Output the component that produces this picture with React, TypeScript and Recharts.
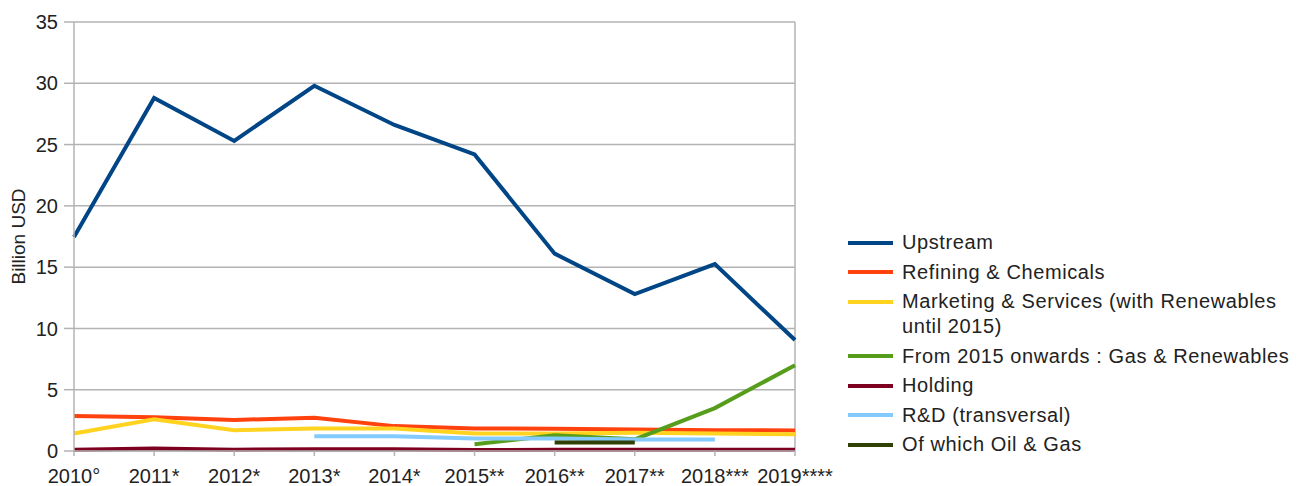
import React from 'react';
import { CartesianGrid, Line, LineChart, ReferenceLine, XAxis, YAxis } from 'recharts';

const years = ['2010°', '2011*', '2012*', '2013*', '2014*', '2015**', '2016**', '2017**', '2018***', '2019****'];
const upstream = [17.45, 28.8, 25.3, 29.8, 26.6, 24.2, 16.1, 12.8, 15.25, 9.05];
const refining = [2.86, 2.75, 2.53, 2.72, 2.03, 1.84, 1.81, 1.76, 1.7, 1.68];
const marketing = [1.43, 2.58, 1.7, 1.84, 1.84, 1.43, 1.43, 1.48, 1.43, 1.37];
const gasRenewables = [null, null, null, null, null, 0.55, 1.29, 0.95, 3.5, 7.0];
const holding = [0.1, 0.2, 0.1, 0.15, 0.15, 0.08, 0.1, 0.1, 0.1, 0.1];
const research = [null, null, null, 1.21, 1.21, 1.02, 1.02, 0.93, 0.93, null];
const oilGas = [null, null, null, null, null, null, 0.69, 0.69, null, null];
const yTicks = [0, 5, 10, 15, 20, 25, 30, 35];

const series = [
	{ key: 'upstream', name: 'Upstream', color: '#004586', values: upstream },
	{ key: 'refining', name: 'Refining & Chemicals', color: '#ff420e', values: refining },
	{ key: 'marketing', name: 'Marketing & Services (with Renewables until 2015)', color: '#ffd320', values: marketing },
	{ key: 'gas', name: 'From 2015 onwards : Gas & Renewables', color: '#579d1c', values: gasRenewables },
	{ key: 'holding', name: 'Holding', color: '#7e0021', values: holding },
	{ key: 'research', name: 'R&D (transversal)', color: '#83caff', values: research },
	{ key: 'oilGas', name: 'Of which Oil & Gas', color: '#314004', values: oilGas },
];

const data = years.map((year, i) => {
	const row: Record<string, string | number | null> = { year };
	series.forEach((s) => {
		row[s.key] = s.values[i];
	});
	return row;
});

const font = '"Liberation Sans", Arial, sans-serif';
const gridColor = '#b3b3b3';

const YLabel = (props: any) => {
	const vb = props.viewBox || {};
	const cy = (vb.y || 0) + (vb.height || 0) / 2;
	return (
		<text
			x={10}
			y={cy}
			transform={`rotate(-90, 10, ${cy})`}
			textAnchor="middle"
			dominantBaseline="central"
			fontFamily={font}
			fontSize={19}
			fill="#222"
		>
			Billion USD
		</text>
	);
};

const App = () => {
	return (
		<div style={{ position: 'relative', width: 1292, height: 478 }}>
			<LineChart
				width={1292}
				height={478}
				data={data}
				margin={{ top: 14, right: 505, bottom: 8, left: 0 }}
			>
				<CartesianGrid vertical={false} stroke={gridColor} strokeWidth={1.5} />
				<XAxis
					dataKey="year"
					height={27}
					interval={0}
					padding={{ left: 0, right: 0 }}
					stroke={gridColor}
					strokeWidth={1.5}
					tickSize={5}
					tickMargin={13}
					tick={{ fill: '#222', fontSize: 20, fontFamily: font }}
				/>
				<YAxis
					width={66}
					domain={[0, 35]}
					ticks={yTicks}
					stroke={gridColor}
					strokeWidth={1.5}
					tickSize={10}
					tickMargin={6}
					tick={{ fill: '#222', fontSize: 20, fontFamily: font }}
					label={<YLabel />}
				/>
				<ReferenceLine x={years[years.length - 1]} stroke={gridColor} strokeWidth={1.5} />
				{series.map((s) => (
					<Line
						key={s.key}
						dataKey={s.key}
						name={s.name}
						type="linear"
						stroke={s.color}
						strokeWidth={4}
						dot={false}
						activeDot={false}
						connectNulls={false}
						isAnimationActive={false}
					/>
				))}
			</LineChart>
			<div
				style={{
					position: 'absolute',
					left: 840,
					top: 222,
					width: 460,
					fontFamily: font,
					fontSize: 20,
					letterSpacing: 0.6,
					color: '#222',
				}}
			>
				{series.map((s) => (
					<div key={s.key} style={{ display: 'flex', alignItems: 'flex-start', marginBottom: 4.5 }}>
						<div
							style={{
								width: 45,
								height: 4,
								background: s.color,
								marginTop: 10.5,
								marginRight: 9,
								flexShrink: 0,
							}}
						/>
						<div style={{ lineHeight: '25px', width: 400, flexShrink: 0 }}>{s.name}</div>
					</div>
				))}
			</div>
		</div>
	);
};

export default App;
